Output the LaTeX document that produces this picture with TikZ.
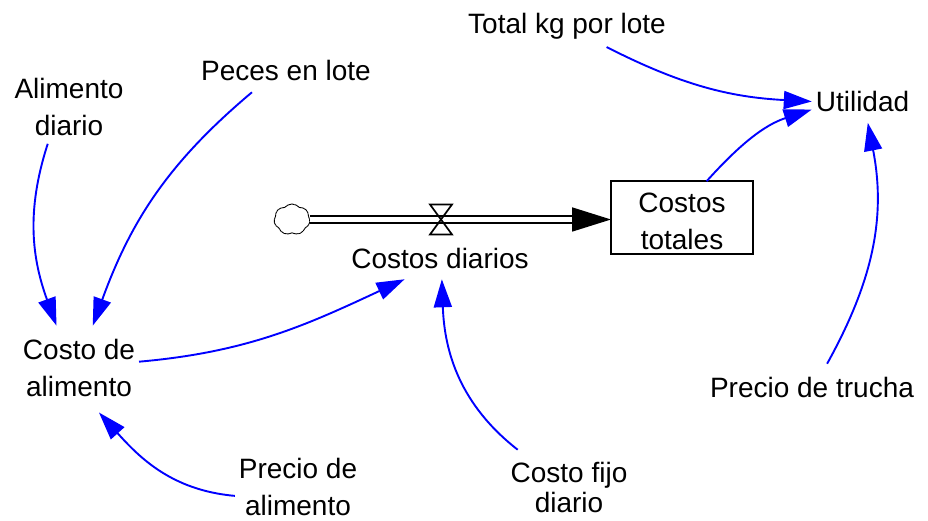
\documentclass[tikz,border=0pt]{standalone}
\usepackage{fontspec}
\setmainfont{Liberation Sans}
\usetikzlibrary{arrows.meta,shapes.symbols}
\tikzset{
  aux_n/.style = {align=center, inner xsep=4pt, inner ysep=8pt, outer sep=0pt,
    font=\fontsize{28}{37}\selectfont},
  stock_n/.style = {aux_n, draw=black, line width=1.7pt, minimum width=142pt,
    minimum height=73pt, inner sep=0pt},
  cloud_n/.style = {cloud, cloud puffs=7, cloud puff arc=100, aspect=1.1, draw=black,
    line width=0.9pt, dash pattern=on 2.5pt off 0.4pt, inner sep=0pt,
    minimum width=36pt, minimum height=31pt},
  link_e/.style = {->, draw=blue, line width=1.9pt},
  flow_e/.style = {->, >={Triangle[length=39pt,width=24pt]}, draw=black, double=white,
    line width=1.7pt, double distance=5.8pt}}

\begin{document}
\begin{tikzpicture}[x=1pt,y=1pt,>={Triangle[length=28pt,width=18pt,color=blue]}]
\useasboundingbox (0,0) rectangle (928,521);

\node [aux_n] (total) at (567,495) {Total kg por lote};
\node [aux_n, inner ysep=11pt] (utilidad) at (862.5,419.5) {Utilidad};
\node [aux_n] (alimento) at (69,414) {Alimento\\diario};
\node [aux_n, inner ysep=11pt] (peces) at (286,450) {Peces en lote};
\node [aux_n, inner ysep=11pt] (diarios) at (440,263) {Costos diarios};
\node [stock_n] (totales) at (682,303.3) {\rule{0pt}{26pt}Costos\\totales};
\node [aux_n, inner ysep=13.5pt] (costoal) at (79,153) {Costo de\\alimento};
\node [aux_n, inner ysep=0pt] (precioal) at (298,34) {Precio de\\alimento};
\node [aux_n, inner ysep=12pt, font=\fontsize{28}{30}\selectfont] (fijo) at (569,34) {Costo fijo\\diario};
\node [aux_n, inner ysep=13pt] (trucha) at (812,134) {Precio de trucha};
\node [cloud_n] (fuente) at (292,301.5) {};
\coordinate (valvula) at (441,301.5);

% flow
\draw [flow_e] (fuente) -- (totales.west |- fuente);
\draw [line width=1.7pt] (valvula) -- ++(-11,15) -- ++(22,0) -- cycle;
\draw [line width=1.7pt] (valvula) -- ++(-11,-15) -- ++(22,0) -- cycle;

% links
\draw [link_e] (alimento.240) to[out=252,in=110] (costoal.118.7);
\draw [link_e] (peces.212) to[out=220,in=70] (costoal.72.8);
\draw [link_e] (costoal.6) to[out=5,in=205] (diarios.211);
\draw [link_e, shorten >=3pt] (precioal.188) to[out=175,in=312] (costoal.293);
\draw [link_e] (fijo.144.6) to[out=142,in=272] (diarios.275);
\draw [link_e] (total.332) to[out=-27,in=177] (utilidad.180);
\draw [link_e] (totales.56) to[out=48,in=198] (utilidad.189);
\draw [link_e] (trucha.57) to[out=61,in=281] (utilidad.284);
\end{tikzpicture}
\end{document}
